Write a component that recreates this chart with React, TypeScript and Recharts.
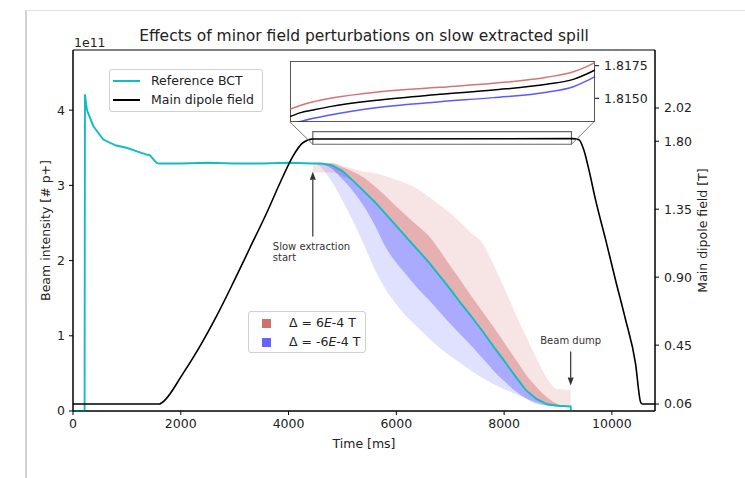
import React from "react";
import {
  ComposedChart,
  LineChart,
  Line,
  Area,
  XAxis,
  YAxis,
  ReferenceArea,
  ReferenceLine,
} from "recharts";

// reference BCT before extraction (ms, 1e11 p+)
const bctEarlyTime = [0, 215, 222, 260, 376, 561, 800, 994, 1200, 1364, 1430, 1549, 1600, 2000, 2500, 3000, 3500, 4000];
const bctEarly = [0, 0, 4.21, 4.0, 3.79, 3.61, 3.53, 3.5, 3.45, 3.41, 3.4, 3.3, 3.29, 3.29, 3.3, 3.29, 3.29, 3.3];

// extraction window, shared by the BCT and the spread bands
const bandTime = [4450, 4600, 4800, 5000, 5200, 5400, 5600, 5800, 6000, 6200, 6400, 6600, 6800, 7000, 7200, 7400, 7600, 7800, 8000, 8200, 8400, 8600, 8800, 9000, 9235];
const bctBand = [3.29, 3.29, 3.27, 3.19, 3.06, 2.92, 2.78, 2.62, 2.46, 2.3, 2.14, 1.98, 1.8, 1.62, 1.43, 1.25, 1.06, 0.86, 0.67, 0.47, 0.28, 0.16, 0.09, 0.07, 0.06];
const darkRedHigh = [3.29, 3.29, 3.29, 3.24, 3.18, 3.1, 2.99, 2.86, 2.72, 2.59, 2.46, 2.33, 2.14, 1.93, 1.73, 1.52, 1.32, 1.12, 0.91, 0.7, 0.49, 0.32, 0.18, 0.09, 0.06];
const darkBlueLow = [3.29, 3.28, 3.22, 3.08, 2.92, 2.72, 2.47, 2.18, 1.97, 1.8, 1.63, 1.48, 1.32, 1.16, 1.01, 0.86, 0.7, 0.54, 0.4, 0.27, 0.17, 0.1, 0.07, 0.06, 0.06];
const lightRedHigh = [3.3, 3.3, 3.3, 3.26, 3.22, 3.18, 3.16, 3.12, 3.07, 3.02, 2.95, 2.85, 2.74, 2.63, 2.5, 2.36, 2.23, 1.95, 1.64, 1.31, 1.0, 0.7, 0.43, 0.29, 0.28];
const lightRedLow = [3.17, 3.17, 3.17, 3.12, 3.06, 2.92, 2.78, 2.62, 2.46, 2.3, 2.14, 1.98, 1.8, 1.62, 1.43, 1.25, 1.06, 0.86, 0.67, 0.47, 0.28, 0.16, 0.09, 0.07, 0.06];
const lightBlueLow = [3.29, 3.24, 3.05, 2.8, 2.52, 2.21, 1.88, 1.62, 1.42, 1.25, 1.11, 0.97, 0.84, 0.73, 0.63, 0.53, 0.44, 0.36, 0.29, 0.23, 0.17, 0.12, 0.08, 0.06, 0.05];

const dumpTime = [9240];
const dumpValue = [0];

// main dipole field (T)
const dipoleTime = [0, 1600, 1654, 2043, 2352, 2661, 2969, 3278, 3587, 3894, 4080, 4265, 4450, 9265, 9389, 9481, 9574, 9698, 9883, 10068, 10253, 10438, 10531, 10562, 10800];
const dipoleField = [0.06, 0.06, 0.07, 0.263, 0.44, 0.64, 0.86, 1.09, 1.32, 1.565, 1.7, 1.79, 1.815, 1.817, 1.81, 1.74, 1.61, 1.41, 1.15, 0.88, 0.62, 0.33, 0.075, 0.06, 0.06];

// inset: plateau zoom
const insetTime = [4450, 4607, 4817, 5080, 5866, 6811, 7650, 8490, 8909, 9119, 9250];
const insetPlus = [1.81415, 1.81445, 1.81474, 1.815, 1.81551, 1.81584, 1.81615, 1.81661, 1.81704, 1.81743, 1.81776];
const insetNominal = [1.81359, 1.81388, 1.8141, 1.81436, 1.81487, 1.8153, 1.81564, 1.81607, 1.81645, 1.81686, 1.81717];
const insetMinus = [1.813, 1.81321, 1.81346, 1.81372, 1.81431, 1.81474, 1.81505, 1.81546, 1.81589, 1.81633, 1.81666];

const timeTicks = [0, 2000, 4000, 6000, 8000, 10000];
const intensityTicks = [0, 1, 2, 3, 4];
const fieldTicks = [0.06, 0.45, 0.9, 1.35, 1.8, 2.02];
const insetTicks = [1.815, 1.8175];

type Row = { t: number; [k: string]: number };

function buildRows(series: { key: string; t: number[]; v: number[] }[]) {
  const map = new Map<number, Row>();
  series.forEach((s) =>
    s.t.forEach((t, i) => {
      const row = map.get(t) ?? { t };
      row[s.key] = s.v[i];
      map.set(t, row);
    })
  );
  return [...map.values()].sort((a, b) => a.t - b.t);
}

const rows = buildRows([
  { key: "bct", t: bctEarlyTime, v: bctEarly },
  { key: "bct", t: bandTime, v: bctBand },
  { key: "bct", t: dumpTime, v: dumpValue },
  { key: "drHi", t: bandTime, v: darkRedHigh },
  { key: "dbLo", t: bandTime, v: darkBlueLow },
  { key: "lrHi", t: bandTime, v: lightRedHigh },
  { key: "lrLo", t: bandTime, v: lightRedLow },
  { key: "lbLo", t: bandTime, v: lightBlueLow },
  { key: "dipole", t: dipoleTime, v: dipoleField },
]);

const insetRows = buildRows([
  { key: "plus", t: insetTime, v: insetPlus },
  { key: "nominal", t: insetTime, v: insetNominal },
  { key: "minus", t: insetTime, v: insetMinus },
]);

const FONT = "'DejaVu Sans', sans-serif";
const RED = "#cd5c5c";
const BLUE = "#0000ff";
const CYAN = "#13bcc3";

const range = (lo: string, hi: string) => (r: Row) =>
  r[hi] == null || r[lo] == null ? null : [r[lo], r[hi]];

const yTitle = (text: string, dx: number) => (props: any) => {
  const vb = props.viewBox;
  const cx = vb.x + dx;
  const cy = vb.y + vb.height / 2;
  return (
    <text x={cx} y={cy} transform={`rotate(-90 ${cx} ${cy})`} textAnchor="middle" dominantBaseline="central" fontSize={12.5} fill="#222">
      {text}
    </text>
  );
};

const arrow = (lines: string[], textDx: number, textDy: number, anchor: "start" | "middle") => (props: any) => {
  const { x1, y1, x2, y2 } = props;
  if (x1 == null) return <g />;
  const dir = y2 > y1 ? 1 : -1;
  const head = 8;
  return (
    <g>
      <line x1={x1} y1={y1} x2={x2} y2={y2 - dir * head} stroke="#333" strokeWidth={1.2} />
      <polygon points={`${x2},${y2} ${x2 - 3},${y2 - dir * head} ${x2 + 3},${y2 - dir * head}`} fill="#333" />
      {lines.map((s, i) => (
        <text key={i} x={x1 + textDx} y={y1 + textDy + i * 11} textAnchor={anchor} fontSize={10} fill="#333" dominantBaseline="central">
          {s}
        </text>
      ))}
    </g>
  );
};

const tickStyle = { fill: "#222", fontSize: 12.5 };

export default function App() {
  return (
    <div style={{ position: "absolute", left: 0, top: 0, width: 745, height: 478, background: "#fff", fontFamily: FONT, overflow: "hidden" }}>
      <div style={{ position: "absolute", left: 25, top: 10, width: 740, height: 480, borderLeft: "2px solid #d2d2d2", borderTop: "1px solid #e2e2e2" }} />
      <div style={{ position: "absolute", left: 0, top: 0 }}>
        <ComposedChart width={745} height={478} data={rows} margin={{ top: 50, right: 10, bottom: 27, left: 20 }}>
          <XAxis
            dataKey="t"
            type="number"
            domain={[0, 10800]}
            ticks={timeTicks}
            height={40}
            tickSize={4}
            tickMargin={4}
            stroke="#000"
            tick={tickStyle}
            label={{ value: "Time [ms]", position: "insideBottom", offset: 3, fill: "#222", fontSize: 12.5 }}
          />
          <YAxis
            yAxisId="left"
            type="number"
            domain={[0, 4.8]}
            ticks={intensityTicks}
            width={53}
            tickSize={4}
            tickMargin={4}
            stroke="#000"
            tick={tickStyle}
            label={{ content: yTitle("Beam intensity [# p+]", 25) }}
          />
          <YAxis
            yAxisId="right"
            orientation="right"
            type="number"
            domain={[0.014, 2.404]}
            ticks={fieldTicks}
            tickFormatter={(v: number) => v.toFixed(2)}
            width={80}
            tickSize={4}
            tickMargin={5}
            stroke="#000"
            tick={tickStyle}
            label={{ content: yTitle("Main dipole field [T]", 47) }}
          />

          <Area yAxisId="left" dataKey={range("lrLo", "lrHi")} type="monotone" stroke="none" fill={RED} fillOpacity={0.17} connectNulls dot={false} activeDot={false} isAnimationActive={false} />
          <Area yAxisId="left" dataKey={range("bct", "drHi")} type="monotone" stroke="none" fill={RED} fillOpacity={0.38} connectNulls dot={false} activeDot={false} isAnimationActive={false} />
          <Area yAxisId="left" dataKey={range("lbLo", "bct")} type="monotone" stroke="none" fill={BLUE} fillOpacity={0.12} connectNulls dot={false} activeDot={false} isAnimationActive={false} />
          <Area yAxisId="left" dataKey={range("dbLo", "bct")} type="monotone" stroke="none" fill={BLUE} fillOpacity={0.24} connectNulls dot={false} activeDot={false} isAnimationActive={false} />

          <Line yAxisId="left" dataKey="bct" type="linear" stroke={CYAN} strokeWidth={1.9} dot={false} activeDot={false} connectNulls isAnimationActive={false} />
          <Line yAxisId="right" dataKey="dipole" type="monotone" stroke="#000" strokeWidth={1.6} dot={false} activeDot={false} connectNulls isAnimationActive={false} />

          <ReferenceArea yAxisId="left" x1={0} x2={10800} y1={0} y2={4.8} fill="none" stroke="#000" strokeWidth={1} />
          <ReferenceArea yAxisId="right" x1={4450} x2={9250} y1={1.78} y2={1.863} fill="none" stroke="#666" strokeWidth={1.2} />
          <ReferenceLine yAxisId="right" segment={[{ x: 4019, y: 1.929 }, { x: 4450, y: 1.78 }]} stroke="#777" strokeWidth={1} />
          <ReferenceLine yAxisId="right" segment={[{ x: 9667, y: 1.929 }, { x: 9250, y: 1.78 }]} stroke="#777" strokeWidth={1} />

          <ReferenceLine yAxisId="left" segment={[{ x: 4450, y: 2.32 }, { x: 4450, y: 3.18 }]} shape={arrow(["Slow extraction", "start"], -40, 10, "start")} />
          <ReferenceLine yAxisId="left" segment={[{ x: 9235, y: 0.79 }, { x: 9235, y: 0.34 }]} shape={arrow(["Beam dump"], 0, -11, "middle")} />
        </ComposedChart>
      </div>

      {/* inset */}
      <div style={{ position: "absolute", left: 290, top: 61, width: 305, height: 61, background: "#fff", border: "1.2px solid #555", boxSizing: "border-box" }} />
      <div style={{ position: "absolute", left: 290, top: 53 }}>
        <LineChart width={375} height={77} data={insetRows} margin={{ top: 8, right: 0, bottom: 8, left: 0 }}>
          <XAxis dataKey="t" type="number" domain={[4450, 9250]} hide />
          <YAxis
            orientation="right"
            type="number"
            domain={[1.81318, 1.81786]}
            allowDataOverflow
            ticks={insetTicks}
            tickFormatter={(v: number) => v.toFixed(4)}
            width={70}
            tickSize={4}
            tickMargin={5}
            axisLine={false}
            stroke="#000"
            tick={tickStyle}
          />
          <Line dataKey="plus" type="monotone" stroke={RED} strokeOpacity={0.85} strokeWidth={1.5} dot={false} activeDot={false} isAnimationActive={false} />
          <Line dataKey="nominal" type="monotone" stroke="#000" strokeWidth={1.5} dot={false} activeDot={false} isAnimationActive={false} />
          <Line dataKey="minus" type="monotone" stroke={BLUE} strokeOpacity={0.65} strokeWidth={1.5} dot={false} activeDot={false} isAnimationActive={false} />
        </LineChart>
      </div>

      {/* title and offset text */}
      <div style={{ position: "absolute", left: 114, width: 500, top: 28, textAlign: "center", fontSize: 15.5, lineHeight: "17px", color: "#222" }}>
        Effects of minor field perturbations on slow extracted spill
      </div>
      <div style={{ position: "absolute", left: 74, top: 36, fontSize: 12.5, lineHeight: "14px", color: "#222" }}>1e11</div>

      {/* legend: lines */}
      <div style={{ position: "absolute", left: 109, top: 69, width: 154, height: 43, border: "1px solid #d0d0d0", borderRadius: 3, background: "rgba(255,255,255,0.85)", boxSizing: "border-box", fontSize: 12.5, color: "#222" }}>
        {[
          { c: CYAN, s: "Reference BCT" },
          { c: "#000", s: "Main dipole field" },
        ].map((e, i) => (
          <div key={i} style={{ position: "absolute", left: 3, top: 3 + i * 19, height: 16, display: "flex", alignItems: "center" }}>
            <div style={{ width: 27, height: 2, background: e.c, marginRight: 11 }} />
            <span style={{ lineHeight: "16px", whiteSpace: "nowrap" }}>{e.s}</span>
          </div>
        ))}
      </div>

      {/* legend: bands */}
      <div style={{ position: "absolute", left: 248, top: 311, width: 118, height: 42, border: "1px solid #d0d0d0", borderRadius: 3, background: "rgba(255,255,255,0.85)", boxSizing: "border-box", fontSize: 12.5, color: "#222" }}>
        {[
          { c: "#d07070", s: "6" },
          { c: "#6464ff", s: "-6" },
        ].map((e, i) => (
          <div key={i} style={{ position: "absolute", left: 13, top: 3 + i * 19, height: 16, display: "flex", alignItems: "center" }}>
            <div style={{ width: 9, height: 9, background: e.c, marginRight: 18 }} />
            <span style={{ lineHeight: "16px", whiteSpace: "nowrap" }}>
              Δ = {e.s}
              <i>E</i>-4 T
            </span>
          </div>
        ))}
      </div>
    </div>
  );
}
